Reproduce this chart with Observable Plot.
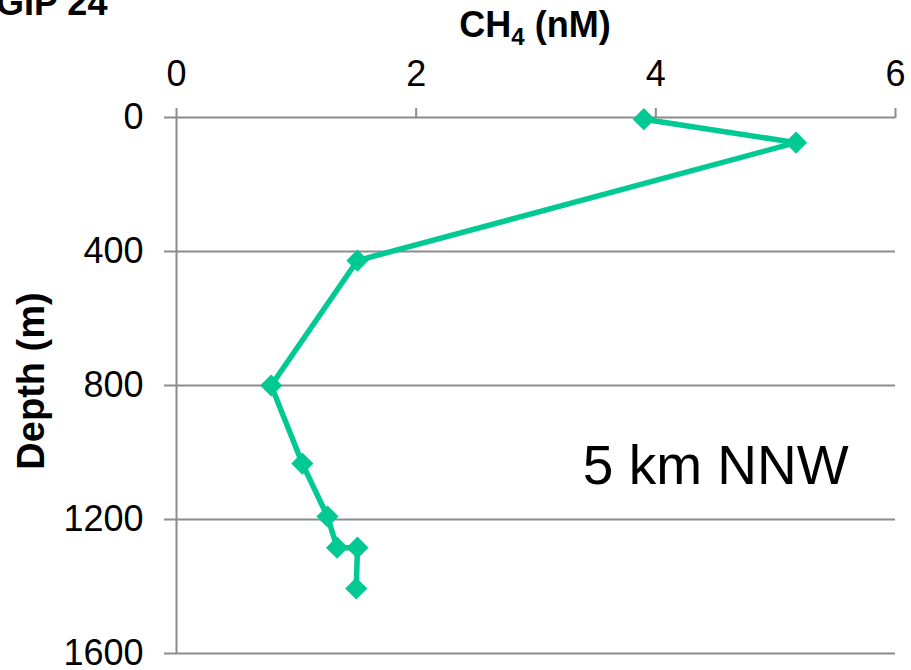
<!DOCTYPE html>
<html>
<head>
<meta charset="utf-8">
<script src="https://cdn.jsdelivr.net/npm/d3@7"></script>
<script src="https://cdn.jsdelivr.net/npm/@observablehq/plot@0.6"></script>
<style>
  html, body { margin: 0; padding: 0; background: #fff; overflow: hidden; }
  #chart { position: relative; width: 911px; height: 670px; }
  svg { font-family: "Liberation Sans", Arial, sans-serif; }
</style>
</head>
<body>
<div id="chart"></div>
<script>
// Methane profile, station GIP 24 (5 km NNW)
const ch4 = [3.90, 5.17, 1.51, 0.79, 1.05, 1.26, 1.34, 1.51, 1.50];   // nM
const depth = [5, 75, 427, 800, 1033, 1191, 1284, 1284, 1406];       // m
const xTicks = [0, 2, 4, 6];
const yTicks = [0, 400, 800, 1200, 1600];
const stationLabel = "5 km NNW";
const plotTitle = "GIP 24";

const profile = ch4.map((c, i) => ({ch4: c, depth: depth[i]}));

const green = "#00C994";
const gray = "#8c8c8c";
const fmt = d => String(d);

const svg = Plot.plot({
  width: 911,
  height: 670,
  marginLeft: 176,
  marginRight: 16,
  marginTop: 117,
  marginBottom: 17,
  style: {fontFamily: "Liberation Sans, Arial, sans-serif", color: "#000", background: "#fff", overflow: "visible"},
  x: {domain: [0, 6]},
  y: {domain: [0, 1600], reverse: true},
  marks: [
    Plot.gridY(yTicks, {stroke: gray, strokeOpacity: 1, strokeWidth: 2}),
    Plot.ruleX([0], {stroke: gray, strokeWidth: 2}),
    Plot.axisX({anchor: "top", ticks: xTicks, tickFormat: fmt, tickSize: 10, tickPadding: 22, fontSize: 36,
                stroke: gray, strokeWidth: 2, label: null}),
    Plot.axisY({anchor: "left", ticks: yTicks, tickFormat: fmt, tickSize: 12, tickPadding: 21, fontSize: 36,
                stroke: gray, strokeWidth: 2, label: null}),
    Plot.line(profile, {x: "ch4", y: "depth", stroke: green, strokeWidth: 5.5, curve: "linear"}),
    Plot.dot(profile, {x: "ch4", y: "depth", symbol: "diamond2", r: 10, fill: green, stroke: "none"}),
    Plot.text([stationLabel], {x: 4.5, y: 1040, text: d => d, fontSize: 55, fill: "#000"})
  ]
});

const root = d3.select(svg);

// chart title (runs off the left edge)
root.append("text")
  .attr("x", -4).attr("y", 15)
  .attr("text-anchor", "start")
  .attr("font-size", 36).attr("font-weight", "bold")
  .attr("fill", "#000")
  .text(plotTitle);

// x-axis title with subscript
const xt = root.append("text")
  .attr("x", 535).attr("y", 37)
  .attr("text-anchor", "middle")
  .attr("font-size", 36).attr("font-weight", "bold")
  .attr("fill", "#000");
xt.append("tspan").text("CH");
xt.append("tspan").attr("font-size", 24).attr("dy", 8).text("4");
xt.append("tspan").attr("dy", -8).text(" (nM)");

// y-axis title
root.append("text")
  .attr("transform", "translate(44,381) rotate(-90)")
  .attr("text-anchor", "middle")
  .attr("font-size", 38).attr("font-weight", "bold")
  .attr("fill", "#000")
  .text("Depth (m)");

document.getElementById("chart").appendChild(svg);
</script>
</body>
</html>
